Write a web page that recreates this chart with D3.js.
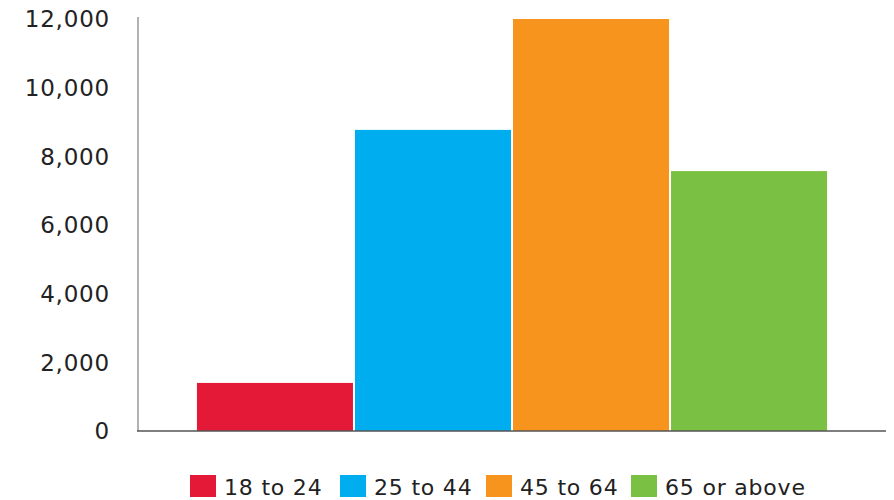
<!DOCTYPE html>
<html>
<head>
<meta charset="utf-8">
<script src="https://cdn.jsdelivr.net/npm/d3@7"></script>
<style>
  body { margin: 0; background: #fff; }
</style>
</head>
<body>
<div id="chart"></div>
<script>
// Chart data
const categories = ['18 to 24', '25 to 44', '45 to 64', '65 or above']
const values = [1400, 8770, 12000, 7570]
const colors = ['#E31937', '#00AEEF', '#F7941D', '#7AC143']
const yTicks = [0, 2000, 4000, 6000, 8000, 10000, 12000]

const width = 894
const height = 500
const font = '"DejaVu Sans", sans-serif'

const svg = d3.select('#chart').append('svg').attr('width', width).attr('height', height)

// Scales
const x = d3.scaleBand()
  .domain(categories)
  .range([138, 886])
  .paddingInner(0.0127)
  .paddingOuter(0.373)

const y = d3.scaleLinear().domain([0, 12000]).range([431, 19])

// Bars
svg.selectAll('rect.bar')
  .data(values)
  .enter()
  .append('rect')
  .attr('class', 'bar')
  .attr('x', (d, i) => x(categories[i]))
  .attr('y', d => y(d))
  .attr('width', x.bandwidth())
  .attr('height', d => y(0) - y(d))
  .attr('fill', (d, i) => colors[i])

// Y axis line
svg.append('line')
  .attr('x1', 138).attr('x2', 138)
  .attr('y1', 17).attr('y2', y(0))
  .attr('stroke', '#999')
  .attr('stroke-width', 1.5)

// X axis line
svg.append('line')
  .attr('x1', 137).attr('x2', 886)
  .attr('y1', y(0)).attr('y2', y(0))
  .attr('stroke', '#555')
  .attr('stroke-width', 1.5)

// Y tick labels
svg.selectAll('text.ytick')
  .data(yTicks)
  .enter()
  .append('text')
  .attr('class', 'ytick')
  .attr('x', 110)
  .attr('y', d => y(d))
  .attr('dy', '0.36em')
  .attr('text-anchor', 'end')
  .attr('font-family', font)
  .attr('font-size', '23px')
  .attr('letter-spacing', '0.8px')
  .attr('fill', '#222')
  .text(d => d3.format(',')(d))

// Legend
const legendX = [190, 340, 486, 631]
const legend = svg.selectAll('g.legend')
  .data(categories)
  .enter()
  .append('g')
  .attr('class', 'legend')
  .attr('transform', (d, i) => `translate(${legendX[i]},475)`)

legend.append('rect')
  .attr('width', 26)
  .attr('height', 22)
  .attr('fill', (d, i) => colors[i])

legend.append('text')
  .attr('x', 34)
  .attr('y', 20)
  .attr('font-family', font)
  .attr('font-size', '22px')
  .attr('letter-spacing', '0.8px')
  .attr('fill', '#222')
  .text(d => d)
</script>
</body>
</html>
